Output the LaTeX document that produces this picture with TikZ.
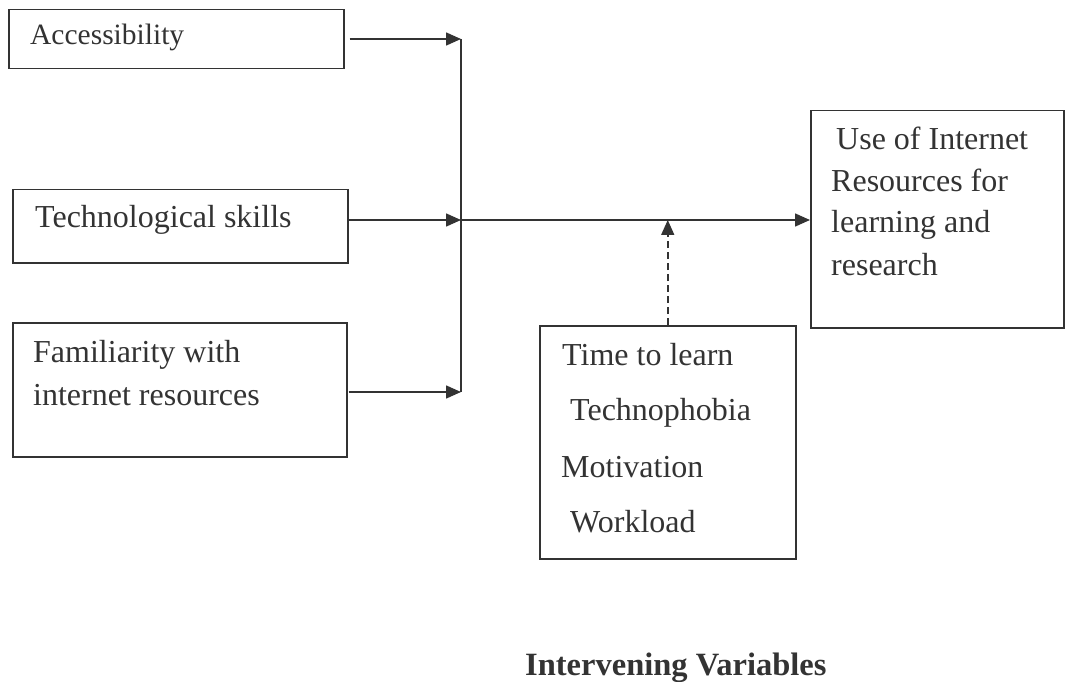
\documentclass[tikz,border=0pt]{standalone}
\usepackage{fontspec}
\setmainfont{Liberation Serif}
\usetikzlibrary{arrows.meta}
\definecolor{ink}{HTML}{333333}
\tikzset{
  box/.style={draw=ink, line width=1.5pt, inner sep=0pt, anchor=north west},
  ltxt/.style={anchor=base west, inner sep=0pt, text=ink, font=\fontsize{32}{38}\selectfont},
  rtxt/.style={anchor=base west, inner sep=0pt, text=ink, font=\fontsize{32}{40}\selectfont},
  conn/.style={draw=ink, line width=1.6pt},
  arr/.style={conn, -{Triangle[length=15pt,width=13pt]}},
}
\begin{document}
\begin{tikzpicture}[x=1pt,y=-1pt]
\useasboundingbox (0,0) rectangle (1072,682);
% boxes
\node[box, minimum width=335pt, minimum height=59pt] (acc) at (8,9) {};
\node[box, minimum width=335pt, minimum height=73pt] (tech) at (12,189) {};
\node[box, minimum width=334pt, minimum height=134pt] (fam) at (12,322) {};
\node[box, minimum width=253pt, minimum height=217pt] (use) at (810,110) {};
\node[box, minimum width=256pt, minimum height=233pt] (time) at (539,325) {};
% texts
\node[ltxt, font=\fontsize{29.5}{36}\selectfont] (accT) at (30,45) {Accessibility};
\node[ltxt] (techT) at (35,228) {Technological skills};
\node[ltxt] (famA) at (33,362) {Familiarity with};
\node[ltxt] (famB) at (33,405) {internet resources};
\node[rtxt] (useA) at (836,150) {Use of Internet};
\node[rtxt] (useB) at (831,192) {Resources for};
\node[rtxt] (useC) at (831,233) {learning and};
\node[rtxt] (useD) at (831,275) {research};
\node[rtxt] (timeA) at (562,365) {Time to learn};
\node[rtxt] (timeB) at (570,420) {Technophobia};
\node[rtxt] (timeC) at (561,477) {Motivation};
\node[rtxt] (timeD) at (570,532) {Workload};
\node[anchor=base west, inner sep=0pt, text=ink, font=\fontsize{32.5}{36}\selectfont\bfseries] (iv) at (525,675) {Intervening Variables};
% junction coordinates
\coordinate (ja) at (461,39);
\coordinate (jt) at (461,220);
\coordinate (jf) at (461,392);
% connectors
\draw[conn] (ja) -- (jf);
\draw[arr, shorten <=5pt] (acc.east |- ja) -- (ja);
\draw[arr, shorten <=-1pt] (tech.east |- jt) -- (jt);
\draw[arr, shorten <=1pt] (fam.east |- jf) -- (jf);
\draw[arr] (jt) -- (use.west |- jt);
\draw[arr, dash pattern=on 7pt off 4pt] (time.north) -- (time.north |- jt);
\end{tikzpicture}
\end{document}
